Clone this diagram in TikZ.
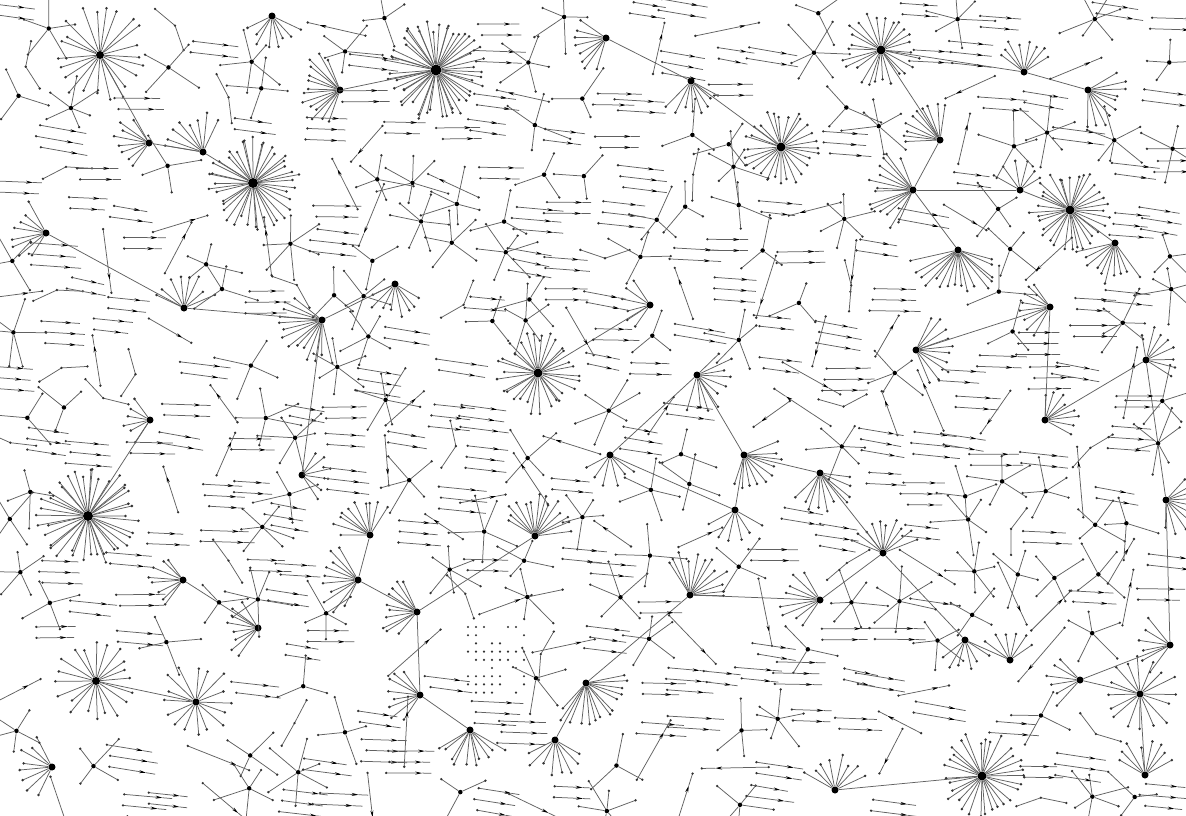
\documentclass[tikz,border=0pt]{standalone}
\usetikzlibrary{arrows.meta}
\tikzset{
  edge/.style={draw=black!62, line width=0.75pt},
  arr/.style={edge, -{Stealth[length=7pt,width=3pt,color=black]}},
  dot/.style={fill=black!80},
  junc/.style={circle, fill=black, draw=none, inner sep=0pt, minimum size=4.5pt},
  hubnode/.style={circle, fill=black, draw=none, inner sep=0pt},
}
\newcommand\arrline[4]{% tail x, tail y, head x, head y
  \pgfmathsetmacro\mxx{#1+0.8*(#3-#1)}%
  \pgfmathsetmacro\myy{#2+0.8*(#4-#2)}%
  \draw[arr] (#1,#2) -- (\mxx,\myy);
  \draw[edge] (\mxx,\myy) -- (#3,#4);
  \fill[dot] (#1,#2) circle (1.3pt);
}
\def\bigs{436/70/50/52/11, 253/183/40/48/10, 88/516/40/52/10, 538/373/30/42/9, 781/147/28/40/9, 881/50/26/40/9, 1070/210/32/42/9, 982/776/30/45/9, 100/55/22/50/8, 96/681/20/42/8, 196/702/16/40/7, 1140/694/16/40/7}
\def\keep{436/70/60, 253/183/56, 88/516/60, 538/373/50, 781/147/48, 881/50/48, 1070/210/50, 982/776/52, 100/55/56, 96/681/50, 196/702/46, 1140/694/46, 493/660/38}
\def\fans{322/320/14/45/150/150, 913/190/14/45/180/140, 940/140/10/40/-135/110, 958/250/16/48/90/160, 340/90/14/42/180/150, 586/683/14/45/60/160, 690/595/12/45/-60/140, 417/612/10/38/190/130, 535/536/14/42/-80/150, 149/143/8/35/180/120, 203/152/8/40/-120/120, 272/16/8/32/90/140, 606/38/8/40/160/120, 691/81/8/36/80/120, 1088/90/10/40/30/130, 1115/243/10/42/110/120, 1024/72/8/34/-90/130, 697/375/10/38/30/160, 744/455/10/40/45/140, 820/473/10/40/70/140, 883/553/10/36/-90/150, 1166/500/10/36/20/150, 52/767/8/36/180/140, 46/233/8/36/180/140, 184/308/8/34/-90/150, 358/580/10/40/180/140, 916/350/10/40/0/150, 395/284/8/34/90/140, 258/628/8/34/180/130, 183/580/8/34/180/130, 370/535/10/40/-120/130, 470/730/10/40/90/140, 420/695/8/36/180/130, 555/740/8/36/90/140, 1045/420/8/34/-30/140, 1050/307/8/34/180/130, 1146/360/8/34/-30/150, 820/600/8/40/180/130, 835/790/8/36/-90/140, 1170/645/6/34/180/120, 1145/775/8/36/-90/140, 1080/680/6/34/180/120, 1010/660/6/32/-90/130, 965/640/6/32/90/130, 302/475/6/32/0/140, 150/420/6/30/180/130, 610/455/6/32/90/140, 735/510/6/32/90/140, 650/305/6/32/180/140, 1020/190/6/30/-90/140}
\begin{document}
\begin{tikzpicture}[x=1pt,y=-1pt]
\fill[white] (0,0) rectangle (1186,815);
\useasboundingbox (0,0) rectangle (1186,815);
\clip (0,0) rectangle (1186,815);
\pgfmathsetseed{4242}
% big radial hubs
\foreach \hx/\hy/\n/\R/\s [count=\k] in \bigs {
  \node[hubnode, minimum size=\s pt] (B\k) at (\hx,\hy) {};
  \foreach \j in {1,...,\n} {
    \pgfmathsetmacro\ang{(360/\n)*\j+5*rand}
    \pgfmathsetmacro\rr{\R*(0.72+0.28*rnd)}
    \pgfmathsetmacro\px{\hx+\rr*cos(\ang)}
    \pgfmathsetmacro\py{\hy+\rr*sin(\ang)}
    \draw[edge] (B\k) -- (\px,\py);
    \fill[dot] (\px,\py) circle (1.4pt);
  }
}
% fan hubs
\foreach \hx/\hy/\n/\R/\d/\sp [count=\k] in \fans {
  \node[hubnode, minimum size=7pt] (F\k) at (\hx,\hy) {};
  \foreach \j in {1,...,\n} {
    \pgfmathsetmacro\ang{\d-\sp/2+(\sp/\n)*(\j-0.5)+4*rand}
    \pgfmathsetmacro\rr{\R*(0.72+0.3*rnd)}
    \pgfmathsetmacro\px{\hx+\rr*cos(\ang)}
    \pgfmathsetmacro\py{\hy+\rr*sin(\ang)}
    \draw[edge] (F\k) -- (\px,\py);
    \fill[dot] (\px,\py) circle (1.4pt);
  }
  \pgfmathsetmacro\kx{\hx+0.45*\R*cos(\d)}
  \pgfmathsetmacro\ky{\hy+0.45*\R*sin(\d)}
  \pgfmathsetmacro\kr{0.8*\R+4}
  \xdef\keep{\keep,\kx/\ky/\kr}
}
% trunk connections
\foreach \a/\b in {F1/F28, F2/F3, F2/F4, F2/F50, F50/B7, F16/B7, F15/F17, F5/B1, F10/F11, F11/B2, B9/F10, F6/F7, F7/F38, F8/F33, F8/F26, F26/F31, F6/F34, F32/F33, F18/F19, F19/F20, F20/F21, F21/F38, F27/F36, F36/F35, F35/F37, F37/F22, F22/F40, F40/F42, F42/B12, F43/F44, F44/F21, F39/B8, F41/B12, B10/B11, F29/F30, F46/B3, F25/F24, F25/F1, F13/F14, F14/B5, F47/F48, F48/F19, F49/B4, F45/F1, F9/F8, F18/F47, B6/F17, F3/B6}
  \draw[edge] (\a) -- (\b);
% dot grid
\foreach \c in {0,...,7} {
  \foreach \r in {0,...,8} {
    \pgfmathsetmacro\gx{468+8*\c}
    \pgfmathsetmacro\gy{627+8.2*\r}
    \pgfmathtruncatemacro\keepdot{rnd<0.72 ? 1 : 0}
    \ifnum\keepdot=1 \fill[dot] (\gx,\gy) circle (1.2pt);\fi
  }
}
% filler
\foreach \i in {0,...,29} {
  \foreach \j in {0,...,20} {
    \pgfmathsetmacro\cx{20+39.5*\i+12*rand}
    \pgfmathsetmacro\cy{20+39*\j+12*rand}
    \gdef\skipflag{0}
    \foreach \bx/\by/\br in \keep {
      \pgfmathtruncatemacro\inside{((\cx-\bx)/100)^2+((\cy-\by)/100)^2 < (\br/100)^2}
      \ifnum\inside=1 \gdef\skipflag{1}\fi
    }
    \ifnum\skipflag=0
      \pgfmathsetmacro\ty{rnd}
      \ifdim\ty pt<0.42pt
        \pgfmathsetmacro\L{18+7*rnd}
        \pgfmathsetmacro\a{5+6*rand}
        \pgfmathtruncatemacro\m{rnd<0.3 ? 3 : 2}
        \foreach \q in {1,...,\m} {
          \pgfmathsetmacro\oy{(\q-(\m+1)/2)*11}
          \pgfmathsetmacro\ax{\cx-\L*cos(\a)+4*rand}
          \pgfmathsetmacro\ay{\cy+\oy-\L*sin(\a)}
          \pgfmathsetmacro\bxx{\cx+\L*cos(\a)+4*rand}
          \pgfmathsetmacro\byy{\cy+\oy+\L*sin(\a)}
          \arrline{\ax}{\ay}{\bxx}{\byy}
        }
      \else\ifdim\ty pt<0.56pt
        \pgfmathsetmacro\L{22+14*rnd}
        \pgfmathsetmacro\a{360*rnd}
        \pgfmathsetmacro\ax{\cx-\L*cos(\a)}
        \pgfmathsetmacro\ay{\cy-\L*sin(\a)}
        \pgfmathsetmacro\bxx{\cx+\L*cos(\a)}
        \pgfmathsetmacro\byy{\cy+\L*sin(\a)}
        \arrline{\ax}{\ay}{\bxx}{\byy}
        \fill[dot] (\bxx,\byy) circle (1.3pt);
      \else\ifdim\ty pt<0.86pt
        \node[junc] (J\i-\j) at (\cx,\cy) {};
        \pgfmathtruncatemacro\m{3+random(0,3)}
        \pgfmathsetmacro\a{360*rnd}
        \foreach \q in {1,...,\m} {
          \pgfmathsetmacro\aa{\a+(360/\m)*\q+20*rand}
          \pgfmathsetmacro\L{20+18*rnd}
          \pgfmathsetmacro\ax{\cx+\L*cos(\aa)}
          \pgfmathsetmacro\ay{\cy+\L*sin(\aa)}
          \draw[edge] (J\i-\j) -- (\ax,\ay);
          \fill[dot] (\ax,\ay) circle (1.3pt);
        }
      \else\ifdim\ty pt<0.94pt
        \pgfmathsetmacro\a{360*rnd}
        \pgfmathsetmacro\aa{\a+180+50*rand}
        \pgfmathsetmacro\ax{\cx+26*cos(\a)}
        \pgfmathsetmacro\ay{\cy+26*sin(\a)}
        \pgfmathsetmacro\bxx{\cx+26*cos(\aa)}
        \pgfmathsetmacro\byy{\cy+26*sin(\aa)}
        \draw[edge] (\ax,\ay) -- (\cx,\cy) -- (\bxx,\byy);
        \fill[dot] (\ax,\ay) circle (1.3pt) (\cx,\cy) circle (1.3pt) (\bxx,\byy) circle (1.3pt);
      \fi\fi\fi\fi
    \fi
  }
}
\end{tikzpicture}
\end{document}
